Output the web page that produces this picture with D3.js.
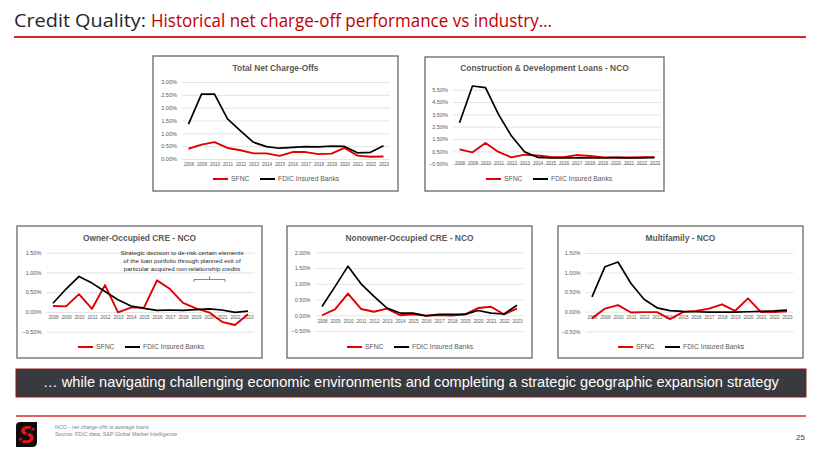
<!DOCTYPE html>
<html>
<head>
<meta charset="utf-8">
<script src="https://cdn.jsdelivr.net/npm/d3@7"></script>
<style>
  body { margin: 0; background: #fff; }
  svg { display: block; }
</style>
</head>
<body>
<svg id="slide" width="820" height="461"></svg>
<script>
const years = ["2008", "2009", "2010", "2011", "2012", "2013", "2014", "2015",
               "2016", "2017", "2018", "2019", "2020", "2021", "2022", "2023"];

// values in percent
const totalSfnc = [0.40, 0.56, 0.66, 0.43, 0.34, 0.22, 0.22, 0.12, 0.27, 0.27, 0.19, 0.21, 0.43, 0.13, 0.09, 0.10];
const totalFdic = [1.36, 2.53, 2.53, 1.56, 1.10, 0.65, 0.48, 0.42, 0.45, 0.48, 0.47, 0.50, 0.49, 0.24, 0.26, 0.52];

const cdSfnc = [0.66, 0.42, 1.18, 0.45, 0.01, 0.23, 0.17, 0.04, 0.02, 0.20, 0.12, 0.02, 0.00, 0.00, 0.03, 0.03];
const cdFdic = [2.82, 5.80, 5.66, 3.50, 1.74, 0.47, 0.02, -0.02, -0.03, -0.03, -0.03, -0.02, -0.01, -0.02, -0.02, 0.00];

const ownerSfnc = [0.15, 0.14, 0.45, 0.08, 0.68, -0.01, 0.11, 0.11, 0.80, 0.58, 0.23, 0.09, -0.01, -0.25, -0.33, -0.06];
const ownerFdic = [0.22, 0.58, 0.90, 0.73, 0.52, 0.31, 0.15, 0.09, 0.04, 0.05, 0.04, 0.06, 0.08, 0.05, -0.01, 0.02];

const nonownerSfnc = [0.00, 0.19, 0.69, 0.20, 0.11, 0.21, 0.00, 0.03, -0.01, 0.01, -0.01, 0.03, 0.23, 0.27, 0.03, 0.21];
const nonownerFdic = [0.28, 0.91, 1.56, 1.00, 0.60, 0.23, 0.07, 0.07, -0.02, 0.03, 0.03, 0.03, 0.15, 0.07, 0.04, 0.32];

const multiSfnc = [-0.17, 0.08, 0.17, -0.02, -0.01, -0.01, -0.19, -0.01, 0.02, 0.08, 0.19, 0.02, 0.34, -0.01, -0.01, 0.01];
const multiFdic = [0.38, 1.15, 1.27, 0.72, 0.32, 0.10, 0.03, 0.01, 0.00, -0.01, -0.01, -0.01, 0.00, 0.01, 0.02, 0.04];

const seriesNames = ["SFNC", "FDIC Insured Banks"];
const seriesColors = ["#e00000", "#000000"];

const titleLead = "Credit Quality: ";
const titleRest = "Historical net charge-off performance vs industry\u2026";
const bannerText = "\u2026 while navigating challenging economic environments and completing a strategic geographic expansion strategy";
const footnotes = ["NCO - net charge-offs to average loans", "Source: FDIC data; S&P Global Market Intelligence"];
const pageNumber = "25";
const noteLines = ["Strategic decision to de-risk certain elements",
                   "of the loan portfolio through planned exit of",
                   "particular acquired non-relationship credits"];

// chart panels: box, plot area and axis settings
const panels = [
  {title: "Total Net Charge-Offs", sfnc: totalSfnc, fdic: totalFdic,
   box: [153, 56, 398, 191], px: [182, 390], py: [159, 82], domain: [0, 3], ticks: [0, 0.5, 1, 1.5, 2, 2.5, 3],
   titleY: 69, legendY: 179, legendX: 213},
  {title: "Construction & Development Loans - NCO", sfnc: cdSfnc, fdic: cdFdic,
   box: [425, 57, 664, 191], px: [453, 661], py: [163.7, 83.5], domain: [-0.5, 6], ticks: [-0.5, 0.5, 1.5, 2.5, 3.5, 4.5, 5.5],
   titleY: 69, legendY: 179, legendX: 486},
  {title: "Owner-Occupied CRE - NCO", sfnc: ownerSfnc, fdic: ownerFdic,
   box: [17, 226, 262, 358], px: [46.5, 254.5], py: [331.7, 252.7], domain: [-0.5, 1.5], ticks: [-0.5, 0, 0.5, 1, 1.5],
   titleY: 239, legendY: 347, legendX: 78, note: true},
  {title: "Nonowner-Occupied CRE - NCO", sfnc: nonownerSfnc, fdic: nonownerFdic,
   box: [287, 226, 532, 358], px: [315.5, 523.5], py: [331, 252.3], domain: [-0.5, 2], ticks: [-0.5, 0, 0.5, 1, 1.5, 2],
   titleY: 239, legendY: 347, legendX: 347},
  {title: "Multifamily - NCO", sfnc: multiSfnc, fdic: multiFdic,
   box: [558, 226, 803, 358], px: [585.5, 793.5], py: [331.3, 253], domain: [-0.5, 1.5], ticks: [-0.5, 0, 0.5, 1, 1.5],
   titleY: 239, legendY: 347, legendX: 618}
];

const svg = d3.select("#slide");
const font = "'Liberation Sans', Arial, sans-serif";

svg.append("rect").attr("width", 820).attr("height", 461).attr("fill", "#fff");

// header
svg.append("text")
    .attr("x", 14).attr("y", 27)
    .attr("font-family", "'Open Sans', sans-serif")
    .attr("font-size", 18)
    .attr("fill", "#262626")
    .attr("textLength", 132).attr("lengthAdjust", "spacingAndGlyphs")
    .text(titleLead);
svg.append("text")
    .attr("x", 151).attr("y", 27)
    .attr("font-family", "'Open Sans', sans-serif")
    .attr("font-size", 18)
    .attr("fill", "#c00000")
    .attr("textLength", 401).attr("lengthAdjust", "spacingAndGlyphs")
    .text(titleRest);
svg.append("line")
    .attr("x1", 14).attr("x2", 806).attr("y1", 37).attr("y2", 37)
    .attr("stroke", "#d42a2a").attr("stroke-width", 2);

panels.forEach(p => drawPanel(p));

function drawPanel(p) {
  const g = svg.append("g").attr("font-family", font);
  const [bx0, by0, bx1, by1] = p.box;

  g.append("rect")
      .attr("x", bx0).attr("y", by0)
      .attr("width", bx1 - bx0).attr("height", by1 - by0)
      .attr("fill", "#fff")
      .attr("stroke", "#737373").attr("stroke-width", 1.4);

  const x = d3.scalePoint().domain(years).range(p.px).padding(0.5);
  const y = d3.scaleLinear().domain(p.domain).range(p.py);

  // gridlines + value labels
  const yAxis = g.append("g")
      .attr("transform", `translate(${p.px[0]},0)`)
      .call(d3.axisLeft(y).tickValues(p.ticks)
        .tickSize(-(p.px[1] - p.px[0])).tickPadding(5)
        .tickFormat(d => d3.format(".2f")(d) + "%"));
  yAxis.select(".domain").remove();
  yAxis.selectAll(".tick line").attr("stroke", "#d9d9d9").attr("stroke-width", 0.7);
  yAxis.selectAll(".tick text")
      .attr("font-size", 5.6).attr("fill", "#595959").attr("font-family", font);

  // year labels under zero line
  const xAxis = g.append("g")
      .attr("transform", `translate(0,${y(0)})`)
      .call(d3.axisBottom(x).tickSize(0).tickPadding(4));
  xAxis.select(".domain").remove();
  xAxis.selectAll(".tick text")
      .attr("font-size", 4.6).attr("fill", "#595959").attr("font-family", font);

  // title
  g.append("text")
      .attr("x", (bx0 + bx1) / 2).attr("y", p.titleY)
      .attr("text-anchor", "middle").attr("dominant-baseline", "middle")
      .attr("font-size", 8.4).attr("font-weight", "bold").attr("fill", "#595959")
      .text(p.title);

  const line = d3.line().x((d, i) => x(years[i])).y(d => y(d));
  [p.sfnc, p.fdic].forEach((vals, k) => {
    g.append("path")
        .datum(vals)
        .attr("fill", "none")
        .attr("stroke", seriesColors[k])
        .attr("stroke-width", k === 0 ? 1.9 : 1.7)
        .attr("stroke-linejoin", "round")
        .attr("d", line);
  });

  // legend
  const leg = g.append("g").attr("transform", `translate(${p.legendX},${p.legendY})`);
  const offsets = [0, 47];
  seriesNames.forEach((name, k) => {
    const item = leg.append("g").attr("transform", `translate(${offsets[k]},0)`);
    item.append("line").attr("x1", 0).attr("x2", 15)
        .attr("stroke", seriesColors[k]).attr("stroke-width", 2);
    item.append("text").attr("x", 18).attr("dy", "0.35em")
        .attr("font-size", 6.8).attr("fill", "#595959")
        .text(name);
  });

  if (p.note) {
    const note = g.append("text")
        .attr("text-anchor", "middle")
        .attr("font-size", 6.2).attr("fill", "#262626");
    noteLines.forEach((t, i) => {
      note.append("tspan").attr("x", 182).attr("y", 254.5 + i * 8.2).text(t);
    });
    // bracket spanning 2019-2021
    const bx = x(years[11]) - 2, ex = x(years[13]) + 3, by = 279.5, mx = (bx + ex) / 2;
    g.append("path")
        .attr("d", `M${bx},${by + 2.5}V${by}H${ex}V${by + 2.5}M${mx},${by}V${by - 3.5}`)
        .attr("fill", "none").attr("stroke", "#595959").attr("stroke-width", 0.7);
  }
}

// banner
svg.append("rect")
    .attr("x", 16).attr("y", 369).attr("width", 790).attr("height", 28)
    .attr("fill", "#373a3e").attr("stroke", "#9b1111").attr("stroke-width", 1);
svg.append("text")
    .attr("x", 411).attr("y", 383.5)
    .attr("text-anchor", "middle").attr("dominant-baseline", "middle")
    .attr("font-family", font).attr("font-size", 14.6).attr("fill", "#fff")
    .text(bannerText);

// footer
svg.append("line")
    .attr("x1", 16).attr("x2", 806).attr("y1", 416).attr("y2", 416)
    .attr("stroke", "#d42a2a").attr("stroke-width", 1.5);

const logo = svg.append("g").attr("transform", "translate(16,422)");
logo.append("path")
    .attr("d", "M4,0H21V20Q21,25 16,25H0V4Q0,0 4,0Z")
    .attr("fill", "#0d0d0d");
logo.append("text")
    .attr("x", 10.5).attr("y", 21)
    .attr("text-anchor", "middle")
    .attr("font-family", font).attr("font-size", 24).attr("font-weight", "bold")
    .attr("font-style", "italic").attr("fill", "#e3161d")
    .text("S");
logo.append("line")
    .attr("x1", 4).attr("y1", 21).attr("x2", 17).attr("y2", 4)
    .attr("stroke", "#0d0d0d").attr("stroke-width", 1.8);

footnotes.forEach((t, i) => {
  svg.append("text")
      .attr("x", 55).attr("y", 429 + i * 7)
      .attr("font-family", font).attr("font-size", 5.4).attr("fill", "#7f7f7f")
      .text(t);
});

svg.append("text")
    .attr("x", 805).attr("y", 440)
    .attr("text-anchor", "end")
    .attr("font-family", font).attr("font-size", 8).attr("fill", "#404040")
    .text(pageNumber);
</script>
</body>
</html>
